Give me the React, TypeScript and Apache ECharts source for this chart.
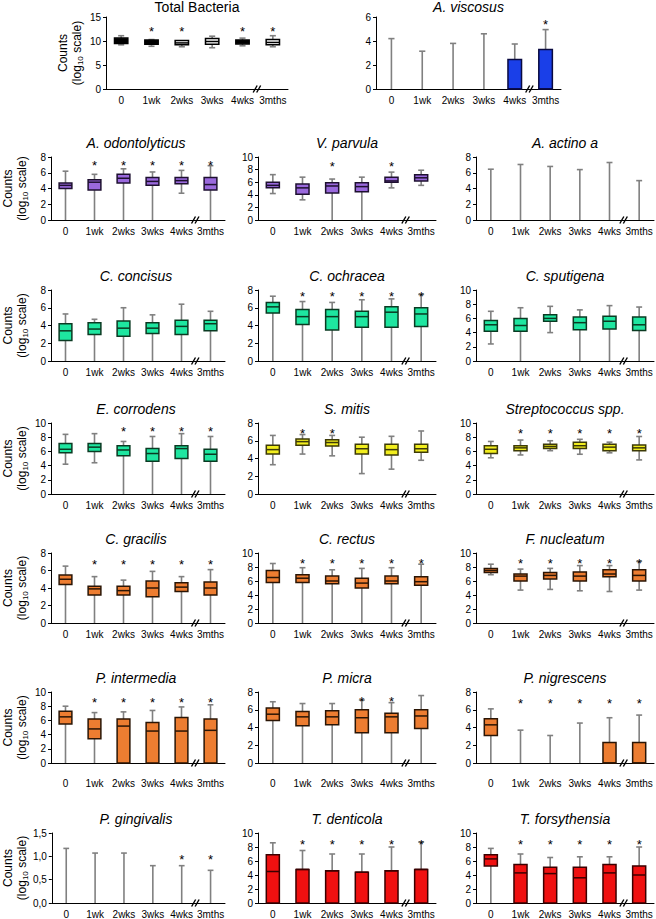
import React, { useEffect, useRef } from "react";
import * as echarts from "echarts";

const FONT = '"Liberation Sans", Arial, Helvetica, sans-serif';

const categories = ["0", "1wk", "2wks", "3wks", "4wks", "3mths"];
const breakBetween = [4, 5];

// each row: [min, q1, median, q3, max] in log10 counts
const totalBacteria = [
  [9.2, 9.5, 10.0, 10.6, 11.1],
  [8.9, 9.3, 9.8, 10.2, 10.3],
  [8.8, 9.2, 9.6, 10.1, 10.1],
  [8.6, 9.3, 9.9, 10.5, 11.0],
  [9.0, 9.4, 9.8, 10.2, 10.6],
  [8.8, 9.2, 9.7, 10.3, 11.1],
];
const totalBacteriaStars = [0, 1, 1, 0, 1, 1];

const aViscosus = [
  [0, 0, 0, 0, 4.2],
  [0, 0, 0, 0, 3.15],
  [0, 0, 0, 0, 3.8],
  [0, 0, 0, 0, 4.6],
  [0, 0, 0, 2.45, 3.75],
  [0, 0, 0, 3.3, 4.95],
];
const aViscosusStars = [0, 0, 0, 0, 0, 1];

const aOdontolyticus = [
  [0, 4.0, 4.4, 4.7, 6.2],
  [0, 3.8, 4.8, 5.1, 5.8],
  [0, 4.7, 5.3, 5.8, 6.5],
  [0, 4.4, 4.9, 5.4, 6.1],
  [3.4, 4.6, 5.0, 5.4, 6.3],
  [0, 3.8, 4.5, 5.4, 6.9],
];
const aOdontolyticusStars = [0, 1, 1, 1, 1, 1];

const vParvula = [
  [4.2, 5.1, 5.5, 6.0, 7.2],
  [3.2, 4.1, 5.1, 5.7, 6.8],
  [0, 4.3, 5.4, 5.9, 6.5],
  [0, 4.5, 5.3, 5.9, 6.8],
  [5.1, 6.0, 6.2, 6.8, 7.6],
  [5.5, 6.2, 6.7, 7.2, 7.9],
];
const vParvulaStars = [0, 0, 1, 0, 1, 0];

const aActino = [
  [0, 0, 0, 0, 6.45],
  [0, 0, 0, 0, 7.05],
  [0, 0, 0, 0, 6.8],
  [0, 0, 0, 0, 6.4],
  [0, 0, 0, 0, 7.3],
  [0, 0, 0, 0, 5.0],
];
const aActinoStars = [0, 0, 0, 0, 0, 0];

const cConcisus = [
  [0, 2.3, 3.4, 4.2, 5.3],
  [0, 3.0, 3.6, 4.3, 4.7],
  [0, 2.8, 3.7, 4.5, 6.0],
  [0, 3.1, 3.7, 4.3, 5.2],
  [0, 3.0, 3.9, 4.6, 6.4],
  [0, 3.4, 4.2, 4.6, 5.6],
];
const cConcisusStars = [0, 0, 0, 0, 0, 0];

const cOchracea = [
  [0, 5.4, 6.1, 6.6, 7.3],
  [0, 4.1, 5.0, 5.8, 6.7],
  [0, 3.5, 5.0, 5.8, 6.6],
  [0, 3.8, 5.0, 5.6, 6.9],
  [0, 3.8, 5.5, 6.1, 7.0],
  [0, 3.9, 5.3, 6.0, 7.5],
];
const cOchraceaStars = [0, 1, 1, 1, 1, 1];

const cSputigena = [
  [2.4, 4.2, 5.1, 5.7, 7.0],
  [0, 4.2, 5.0, 6.0, 7.5],
  [4.0, 5.6, 6.0, 6.5, 7.7],
  [0, 4.4, 5.4, 6.2, 7.2],
  [0, 4.5, 5.6, 6.3, 7.8],
  [0, 4.3, 5.1, 6.2, 7.6],
];
const cSputigenaStars = [0, 0, 0, 0, 0, 0];

const eCorrodens = [
  [4.2, 5.8, 6.3, 7.1, 8.4],
  [4.4, 6.0, 6.6, 7.1, 8.5],
  [0, 5.4, 6.2, 6.8, 7.4],
  [0, 4.6, 5.7, 6.4, 8.1],
  [0, 5.0, 6.4, 6.8, 8.5],
  [0, 4.6, 5.6, 6.3, 8.1],
];
const eCorrodensStars = [0, 0, 1, 1, 1, 1];

const sMitis = [
  [3.3, 4.5, 5.0, 5.5, 6.6],
  [4.5, 5.5, 5.9, 6.2, 6.7],
  [4.3, 5.4, 5.8, 6.1, 6.6],
  [2.3, 4.5, 5.1, 5.6, 6.4],
  [2.8, 4.4, 5.0, 5.6, 6.5],
  [3.8, 4.7, 5.1, 5.6, 7.1],
];
const sMitisStars = [0, 1, 1, 0, 0, 0];

const streptococcus = [
  [5.1, 5.7, 6.3, 6.8, 7.4],
  [5.5, 6.1, 6.5, 6.8, 7.6],
  [6.1, 6.4, 6.7, 7.0, 7.5],
  [5.6, 6.4, 6.8, 7.3, 7.7],
  [5.8, 6.1, 6.6, 7.0, 7.3],
  [4.8, 6.1, 6.5, 6.9, 8.1],
];
const streptococcusStars = [0, 1, 1, 1, 1, 1];

const cGracilis = [
  [0, 4.4, 5.0, 5.5, 6.5],
  [0, 3.2, 3.9, 4.2, 5.3],
  [0, 3.2, 3.7, 4.2, 4.9],
  [0, 3.0, 4.0, 4.8, 5.9],
  [0, 3.6, 4.1, 4.6, 5.3],
  [0, 3.2, 4.0, 4.7, 6.1],
];
const cGracilisStars = [0, 1, 1, 1, 1, 1];

const cRectus = [
  [0, 5.8, 6.5, 7.5, 8.5],
  [0, 5.8, 6.4, 6.9, 7.9],
  [0, 5.6, 6.0, 6.7, 7.6],
  [0, 5.0, 5.7, 6.4, 7.8],
  [0, 5.6, 6.0, 6.7, 7.9],
  [0, 5.4, 5.9, 6.6, 8.4],
];
const cRectusStars = [0, 1, 1, 1, 1, 1];

const fNucleatum = [
  [6.9, 7.2, 7.5, 7.8, 8.4],
  [4.7, 6.0, 6.7, 7.0, 7.7],
  [4.8, 6.3, 6.8, 7.2, 7.8],
  [4.6, 6.0, 6.7, 7.3, 8.2],
  [4.5, 6.6, 7.0, 7.6, 8.2],
  [4.7, 6.0, 6.8, 7.6, 8.8],
];
const fNucleatumStars = [0, 1, 1, 1, 1, 1];

const pIntermedia = [
  [0, 5.5, 6.5, 7.3, 8.0],
  [0, 3.4, 4.8, 6.2, 7.1],
  [0, 0, 5.2, 6.2, 7.2],
  [0, 0, 4.5, 5.7, 7.4],
  [0, 0, 4.5, 6.4, 7.9],
  [0, 0, 4.6, 6.2, 8.2],
];
const pIntermediaStars = [0, 1, 1, 1, 1, 1];

const pMicra = [
  [0, 4.8, 5.5, 6.2, 6.9],
  [0, 4.2, 5.2, 5.8, 6.7],
  [0, 4.3, 5.2, 5.9, 6.7],
  [0, 3.4, 5.1, 6.0, 7.1],
  [0, 3.4, 5.2, 5.6, 6.8],
  [0, 3.9, 5.3, 6.0, 7.6],
];
const pMicraStars = [0, 0, 0, 1, 1, 0];

const pNigrescens = [
  [0, 3.1, 4.3, 5.0, 6.1],
  [0, 0, 0, 0, 3.7],
  [0, 0, 0, 0, 3.1],
  [0, 0, 0, 0, 4.5],
  [0, 0, 0, 2.3, 5.1],
  [0, 0, 0, 2.3, 5.4],
];
const pNigrescensStars = [0, 1, 1, 1, 1, 1];

const pGingivalis = [
  [0, 0, 0, 0, 1.17],
  [0, 0, 0, 0, 1.07],
  [0, 0, 0, 0, 1.07],
  [0, 0, 0, 0, 0.8],
  [0, 0, 0, 0, 0.8],
  [0, 0, 0, 0, 0.7],
];
const pGingivalisStars = [0, 0, 0, 0, 1, 1];

const tDenticola = [
  [0, 0, 4.5, 6.9, 8.6],
  [0, 0, 4.8, 4.8, 7.5],
  [0, 0, 4.6, 4.6, 7.0],
  [0, 0, 4.4, 4.4, 7.0],
  [0, 0, 4.6, 4.6, 8.0],
  [0, 0, 4.8, 4.8, 8.7],
];
const tDenticolaStars = [0, 1, 1, 1, 1, 1];

const tForsythensia = [
  [0, 5.3, 6.3, 6.9, 7.8],
  [0, 0, 4.3, 5.5, 7.0],
  [0, 0, 4.2, 5.1, 6.5],
  [0, 0, 3.6, 5.1, 6.6],
  [0, 0, 4.3, 5.5, 6.6],
  [0, 0, 4.0, 5.3, 8.0],
];
const tForsythensiaStars = [0, 1, 1, 1, 1, 1];

// layout (pixels)
const rowTop = [17, 157, 290, 423, 553, 692, 833];
const rowHeight = [72, 63, 71, 71, 70, 71, 70];
const titleTop = [0, 136, 269, 402, 532, 671, 812];
const colLeft = [47, 258, 476];
const colWidth = 178;

const PURPLE = { fill: "#9a69dd", stroke: "#1e1030" };
const GREEN = { fill: "#1ee6a0", stroke: "#0a3a22" };
const YELLOW = { fill: "#f2ee1e", stroke: "#3d3a08" };
const ORANGE = { fill: "#ed7d31", stroke: "#2a1505" };
const RED = { fill: "#f01010", stroke: "#3a0000" };
const BLUE = { fill: "#1a3fe8", stroke: "#0a0a40" };
const TB = { fill: ["#000", "#000", "#fff", "#fff", "#000", "#fff"], stroke: "#000" };

type Panel = {
  title: string;
  italic: boolean;
  data: number[][];
  stars: number[];
  starY: number;
  max: number;
  interval: number;
  colors: { fill: string | string[]; stroke: string };
  row: number;
  col?: number;
  left?: number;
  width?: number;
  yName?: boolean;
  comma?: boolean;
};

const panels: Panel[] = [
  { title: "Total Bacteria", italic: false, data: totalBacteria, stars: totalBacteriaStars, starY: 12.7, max: 15, interval: 5, colors: TB, row: 0, left: 106, width: 182, yName: true },
  { title: "A. viscosus", italic: true, data: aViscosus, stars: aViscosusStars, starY: 5.6, max: 6, interval: 2, colors: BLUE, row: 0, left: 376, width: 185 },
  { title: "A. odontolyticus", italic: true, data: aOdontolyticus, stars: aOdontolyticusStars, starY: 7.3, max: 8, interval: 2, colors: PURPLE, row: 1, col: 0, yName: true },
  { title: "V. parvula", italic: true, data: vParvula, stars: vParvulaStars, starY: 8.9, max: 10, interval: 2, colors: PURPLE, row: 1, col: 1 },
  { title: "A. actino a", italic: true, data: aActino, stars: aActinoStars, starY: 7.5, max: 8, interval: 2, colors: PURPLE, row: 1, col: 2 },
  { title: "C. concisus", italic: true, data: cConcisus, stars: cConcisusStars, starY: 7.5, max: 8, interval: 2, colors: GREEN, row: 2, col: 0, yName: true },
  { title: "C. ochracea", italic: true, data: cOchracea, stars: cOchraceaStars, starY: 7.6, max: 8, interval: 2, colors: GREEN, row: 2, col: 1 },
  { title: "C. sputigena", italic: true, data: cSputigena, stars: cSputigenaStars, starY: 9, max: 10, interval: 2, colors: GREEN, row: 2, col: 2 },
  { title: "E. corrodens", italic: true, data: eCorrodens, stars: eCorrodensStars, starY: 9.2, max: 10, interval: 2, colors: GREEN, row: 3, col: 0, yName: true },
  { title: "S. mitis", italic: true, data: sMitis, stars: sMitisStars, starY: 7.1, max: 8, interval: 2, colors: YELLOW, row: 3, col: 1 },
  { title: "Streptococcus spp.", italic: true, data: streptococcus, stars: streptococcusStars, starY: 9.0, max: 10, interval: 2, colors: YELLOW, row: 3, col: 2 },
  { title: "C. gracilis", italic: true, data: cGracilis, stars: cGracilisStars, starY: 7.0, max: 8, interval: 2, colors: ORANGE, row: 4, col: 0, yName: true },
  { title: "C. rectus", italic: true, data: cRectus, stars: cRectusStars, starY: 9.0, max: 10, interval: 2, colors: ORANGE, row: 4, col: 1 },
  { title: "F. nucleatum", italic: true, data: fNucleatum, stars: fNucleatumStars, starY: 9.0, max: 10, interval: 2, colors: ORANGE, row: 4, col: 2 },
  { title: "P. intermedia", italic: true, data: pIntermedia, stars: pIntermediaStars, starY: 9.0, max: 10, interval: 2, colors: ORANGE, row: 5, col: 0, yName: true },
  { title: "P. micra", italic: true, data: pMicra, stars: pMicraStars, starY: 7.3, max: 8, interval: 2, colors: ORANGE, row: 5, col: 1 },
  { title: "P. nigrescens", italic: true, data: pNigrescens, stars: pNigrescensStars, starY: 7.0, max: 8, interval: 2, colors: ORANGE, row: 5, col: 2 },
  { title: "P. gingivalis", italic: true, data: pGingivalis, stars: pGingivalisStars, starY: 1.0, max: 1.5, interval: 0.5, colors: RED, row: 6, col: 0, yName: true, comma: true },
  { title: "T. denticola", italic: true, data: tDenticola, stars: tDenticolaStars, starY: 8.8, max: 10, interval: 2, colors: RED, row: 6, col: 1 },
  { title: "T. forsythensia", italic: true, data: tForsythensia, stars: tForsythensiaStars, starY: 8.8, max: 10, interval: 2, colors: RED, row: 6, col: 2 },
];

function buildOption() {
  const grid: any[] = [];
  const xAxis: any[] = [];
  const yAxis: any[] = [];
  const series: any[] = [];
  const title: any[] = [];

  panels.forEach((p, i) => {
    const top = rowTop[p.row];
    const height = rowHeight[p.row];
    const left = p.left !== undefined ? p.left : colLeft[p.col as number];
    const width = p.width !== undefined ? p.width : colWidth;

    grid.push({ left, top, width, height, containLabel: false });
    title.push({
      text: p.title,
      left: left + width / 2,
      top: titleTop[p.row],
      textAlign: "center",
      padding: 0,
      textStyle: {
        fontSize: 14,
        fontWeight: "normal",
        fontStyle: p.italic ? "italic" : "normal",
        fontFamily: FONT,
        color: "#000",
      },
    });
    xAxis.push({
      type: "category",
      gridIndex: i,
      data: categories,
      boundaryGap: true,
      axisLine: { show: true, lineStyle: { color: "#000", width: 1 } },
      axisTick: { show: false },
      axisLabel: {
        interval: 0,
        fontSize: 10,
        color: "#000",
        fontFamily: FONT,
        margin: p.row === 5 ? 15 : 6,
      },
      splitLine: { show: false },
    });
    yAxis.push({
      type: "value",
      gridIndex: i,
      min: 0,
      max: p.max,
      interval: p.interval,
      axisLine: { show: true, lineStyle: { color: "#000", width: 1 } },
      axisTick: { show: true, length: 3, lineStyle: { color: "#000" } },
      axisLabel: {
        fontSize: 10,
        color: "#000",
        fontFamily: FONT,
        margin: 5,
        formatter: p.comma
          ? (v: number) => v.toFixed(1).replace(".", ",")
          : (v: number) => String(v),
      },
      splitLine: { show: false },
      name: p.yName ? "Counts\n(log{s|10} scale)" : "",
      nameLocation: "middle",
      nameRotate: 90,
      nameGap: 22,
      nameTextStyle: {
        fontSize: 12,
        color: "#000",
        fontFamily: FONT,
        lineHeight: 14,
        rich: {
          s: { fontSize: 8, fontFamily: FONT, color: "#000", verticalAlign: "bottom", lineHeight: 14 },
        },
      },
    });

    const fills = p.colors.fill;
    const stroke = p.colors.stroke;

    series.push({
      type: "custom",
      coordinateSystem: "cartesian2d",
      xAxisIndex: i,
      yAxisIndex: i,
      data: p.data.map((d, k) => [k, d[0], d[1], d[2], d[3], d[4]]),
      encode: { x: 0, y: [1, 2, 3, 4, 5] },
      renderItem: (params: any, api: any) => {
        const k = api.value(0);
        const vMin = api.value(1);
        const vQ1 = api.value(2);
        const vMed = api.value(3);
        const vQ3 = api.value(4);
        const vMax = api.value(5);
        const band = api.size([1, 0])[0];
        const bw = band * 0.44;
        const cw = band * 0.2;
        const pMin = api.coord([k, vMin]);
        const cx = pMin[0];
        const yMin = pMin[1];
        const yQ1 = api.coord([k, vQ1])[1];
        const yMed = api.coord([k, vMed])[1];
        const yQ3 = api.coord([k, vQ3])[1];
        const yMax = api.coord([k, vMax])[1];
        const wStyle = { stroke: "#808080", lineWidth: 1.6 };
        const children: any[] = [];
        if (vMin < vQ1) {
          children.push({ type: "line", shape: { x1: cx, y1: yMin, x2: cx, y2: yQ1 }, style: wStyle });
          if (vMin > 0) {
            children.push({ type: "line", shape: { x1: cx - cw / 2, y1: yMin, x2: cx + cw / 2, y2: yMin }, style: wStyle });
          }
        }
        if (vMax > vQ3) {
          children.push({ type: "line", shape: { x1: cx, y1: yQ3, x2: cx, y2: yMax }, style: wStyle });
          children.push({ type: "line", shape: { x1: cx - cw / 2, y1: yMax, x2: cx + cw / 2, y2: yMax }, style: wStyle });
        }
        if (vQ3 > vQ1) {
          const fill = Array.isArray(fills) ? fills[k] : fills;
          children.push({
            type: "rect",
            shape: { x: cx - bw / 2, y: yQ3, width: bw, height: yQ1 - yQ3 },
            style: { fill, stroke, lineWidth: 1.5 },
          });
          children.push({
            type: "line",
            shape: { x1: cx - bw / 2, y1: yMed, x2: cx + bw / 2, y2: yMed },
            style: { stroke, lineWidth: 1.5 },
          });
        }
        return { type: "group", children };
      },
    });

    const starData = p.stars
      .map((s, k) => (s ? [k, p.starY] : null))
      .filter((d) => d !== null);
    series.push({
      type: "custom",
      coordinateSystem: "cartesian2d",
      xAxisIndex: i,
      yAxisIndex: i,
      data: starData,
      encode: { x: 0, y: 1 },
      renderItem: (params: any, api: any) => {
        const c = api.coord([api.value(0), api.value(1)]);
        return {
          type: "text",
          x: c[0],
          y: c[1] + 3,
          style: {
            text: "*",
            fill: "#000",
            font: `13px ${FONT}`,
            textAlign: "center",
            textVerticalAlign: "middle",
          },
        };
      },
    });

    series.push({
      type: "custom",
      coordinateSystem: "cartesian2d",
      xAxisIndex: i,
      yAxisIndex: i,
      data: [[breakBetween[0], breakBetween[1], 0]],
      encode: { x: 0, y: 2 },
      renderItem: (params: any, api: any) => {
        const a = api.coord([api.value(0), api.value(2)]);
        const b = api.coord([api.value(1), api.value(2)]);
        const mx = (a[0] + b[0]) / 2;
        const my = a[1];
        const st = { stroke: "#000", lineWidth: 1.4 };
        return {
          type: "group",
          children: [
            { type: "line", shape: { x1: mx - 4.5, y1: my + 3.5, x2: mx - 0.5, y2: my - 3.5 }, style: st },
            { type: "line", shape: { x1: mx - 1, y1: my + 3.5, x2: mx + 3, y2: my - 3.5 }, style: st },
          ],
        };
      },
    });
  });

  return { animation: false, backgroundColor: "#fff", title, grid, xAxis, yAxis, series };
}

export default function App() {
  const ref = useRef<HTMLDivElement>(null);
  useEffect(() => {
    if (!ref.current) return;
    const chart = echarts.init(ref.current, undefined, { renderer: "svg" });
    chart.setOption(buildOption() as any);
    return () => chart.dispose();
  }, []);
  return (
    <div
      ref={ref}
      style={{ position: "absolute", left: 0, top: 0, width: 656, height: 919, background: "#fff" }}
    />
  );
}
